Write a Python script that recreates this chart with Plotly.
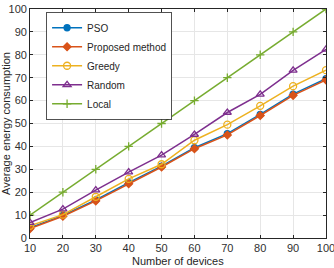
import plotly.graph_objects as go

devices = [10, 20, 30, 40, 50, 60, 70, 80, 90, 100]
pso = [4.5, 9.9, 16.6, 24.2, 31.4, 39.4, 45.6, 54.0, 62.8, 69.6]
proposed = [4.1, 9.5, 16.2, 23.7, 31.0, 39.0, 45.0, 53.5, 62.3, 69.0]
greedy = [5.3, 10.2, 18.0, 25.8, 32.2, 42.7, 49.5, 57.7, 66.3, 73.3]
random_ = [6.7, 12.6, 20.9, 28.8, 36.2, 45.2, 54.8, 62.7, 73.2, 82.4]
local = [10, 20, 30, 40, 50, 60, 70, 80, 90, 100]

series = [
    ("PSO", pso, "#0072BD", "circle", 6),
    ("Proposed method", proposed, "#D95319", "diamond", 6),
    ("Greedy", greedy, "#EDB120", "circle-open", 7),
    ("Random", random_, "#7E2F8E", "triangle-up-open", 7),
    ("Local", local, "#77AC30", "cross-thin-open", 6),
]

fig = go.Figure()
for name, ys, color, sym, sz in series:
    fig.add_trace(go.Scatter(
        x=devices, y=ys, name=name, mode="lines+markers",
        line=dict(color=color, width=1.5),
        marker=dict(symbol=sym, size=sz, color=color,
                    line=dict(color=color, width=1.3)),
    ))

axis_common = dict(
    showline=True, linecolor="#262626", linewidth=0.8, mirror="ticks",
    ticks="inside", ticklen=3, tickcolor="#262626",
    showgrid=True, gridcolor="#E6E6E6", gridwidth=0.8,
    zeroline=False, tickfont=dict(size=11, color="#303030"),
    automargin=False, ticklabeloverflow="allow",
)

fig.update_layout(
    width=334, height=268,
    margin=dict(l=30, r=8, t=9, b=30),
    paper_bgcolor="white", plot_bgcolor="white",
    font=dict(family="Liberation Sans, Arial, sans-serif", color="#262626"),
    showlegend=True,
    legend=dict(
        x=0.055, y=0.985, xanchor="left", yanchor="top",
        bgcolor="white", bordercolor="#262626", borderwidth=0.8,
        font=dict(size=10), itemwidth=30, tracegroupgap=0,
    ),
    xaxis=dict(range=[10, 100], tickvals=devices, **axis_common),
    yaxis=dict(range=[0, 100], tickvals=list(range(0, 101, 10)), **axis_common,
               title=dict(text="Average energy consumption", font=dict(size=11), standoff=4)),
    annotations=[dict(
        text="Number of devices", xref="paper", yref="paper",
        x=0.5, y=-0.131, xanchor="center", yanchor="bottom",
        showarrow=False, font=dict(size=11, color="#262626"), borderpad=0,
    )],
)

fig.write_html("out.html")
